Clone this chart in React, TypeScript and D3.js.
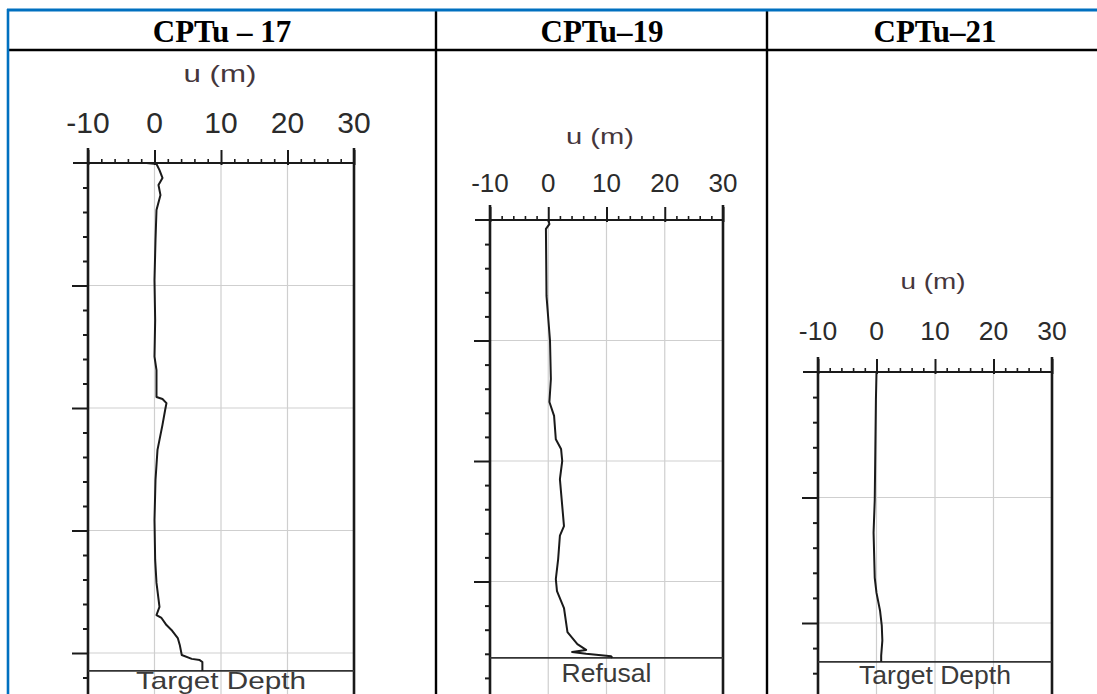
import React, { useEffect, useRef } from "react";
import * as d3 from "d3";

// table headers and the label under each profile
const titles = ["CPTu – 17", "CPTu–19", "CPTu–21"];
const endLabels = ["Target Depth", "Refusal", "Target Depth"];
const uTicks = [-10, 0, 10, 20, 30];
const endDepths = [20.73, 18.17, 11.55];

// CPTu-17 : depth (m) and u (m)
const cptu17Depth = [0, 0.04, 0.29, 0.61, 0.9, 1.31, 1.92, 3.14, 4.78, 6.41, 7.9, 8.45, 9.55, 9.63, 9.8, 10.08, 10.69, 11.3, 11.71, 12.94, 14.57, 16.2, 17.14, 18.12, 18.45, 18.57, 18.86, 19.06, 19.39, 19.67, 20.08, 20.24, 20.29, 20.37, 20.73];
const cptu17U = [-1.2, 0.3, 0.75, 1.2, 0.6, 0.9, 0.3, 0.15, 0, 0.1, 0, 0.3, 0.3, 1.2, 1.8, 1.6, 1.2, 0.75, 0.45, 0.15, 0, 0.1, 0.3, 0.75, 0.3, 1.05, 1.8, 2.55, 3.5, 3.8, 4.1, 5.6, 6.8, 7.2, 7.2];

// CPTu-19
const cptu19Depth = [0, 0.17, 0.37, 3.15, 5.0, 6.6, 7.55, 8.13, 9.1, 9.5, 10.0, 10.75, 12.7, 13.1, 14.07, 14.9, 15.4, 16.1, 17.1, 17.6, 17.84, 17.93, 18.0, 18.1, 18.17];
const cptu19U = [0, 0.2, -0.4, -0.3, 0.3, 0.45, 0.2, 1.0, 1.3, 2.2, 2.4, 2.0, 2.7, 2.0, 1.7, 1.3, 1.5, 2.7, 3.3, 5.0, 6.5, 4.1, 6.5, 10.8, 11];

// CPTu-21
const cptu21Depth = [0, 1.1, 3.1, 5.1, 6.4, 8.2, 8.8, 9.5, 10.1, 10.7, 11.3, 11.55];
const cptu21U = [0, -0.1, -0.2, -0.3, -0.5, -0.3, 0, 0.6, 0.9, 1.0, 0.8, 0.8];

const depths = [cptu17Depth, cptu19Depth, cptu21Depth];
const uValues = [cptu17U, cptu19U, cptu21U];

const W = 1097;
const H = 694;

// where each plot sits on the page
const layout = [
  { cx: 222, x0: 88, x1: 354, y0: 163, pxPerM: 24.5, tickFont: 30, tickGap: 30, labelY: 82, labelW: 73, labelFont: 24, endFont: 24, endW: 170, endY: 689 },
  { cx: 602, x0: 490, x1: 723, y0: 220, pxPerM: 24.1, tickFont: 26, tickGap: 28, labelY: 144, labelW: 68, labelFont: 22, endFont: 25.5, endW: 90, endY: 682 },
  { cx: 935, x0: 818, x1: 1052, y0: 372, pxPerM: 25.1, tickFont: 26.5, tickGap: 32, labelY: 289, labelW: 65, labelFont: 22, endFont: 26, endW: 152, endY: 684 },
];

const App = () => {
  const svgRef = useRef<SVGSVGElement>(null);

  useEffect(() => {
    const svg = d3.select(svgRef.current);
    svg.selectAll("*").remove();
    svg.append("rect").attr("width", W).attr("height", H).attr("fill", "#fff");

    layout.forEach((p, i) => {
      const maxDepth = (H - p.y0) / p.pxPerM + 2;
      const x = d3.scaleLinear().domain([-10, 30]).range([p.x0, p.x1]);
      const y = d3.scaleLinear().domain([0, maxDepth]).range([p.y0, p.y0 + maxDepth * p.pxPerM]);
      const g = svg.append("g");

      // grid
      [0, 10, 20].forEach((v) => {
        g.append("line")
          .attr("x1", x(v)).attr("x2", x(v))
          .attr("y1", p.y0).attr("y2", H)
          .attr("stroke", "#cfcfcf").attr("stroke-width", 1.2);
      });
      d3.range(5, maxDepth, 5).forEach((d) => {
        g.append("line")
          .attr("x1", p.x0).attr("x2", p.x1)
          .attr("y1", y(d)).attr("y2", y(d))
          .attr("stroke", "#cfcfcf").attr("stroke-width", 1.2);
      });

      // top axis
      const topMajor = g.append("g").attr("transform", `translate(0,${p.y0 + 2})`)
        .call(d3.axisTop(x).tickValues(uTicks).tickSize(15).tickFormat(() => ""));
      const topMinor = g.append("g").attr("transform", `translate(0,${p.y0})`)
        .call(d3.axisTop(x).tickValues(d3.range(-8, 30, 2).filter((v) => v % 10 !== 0)).tickSize(4).tickFormat(() => ""));
      [topMajor, topMinor].forEach((a) => {
        a.select(".domain").remove();
        a.selectAll("line").attr("stroke", "#1a1a1a").attr("stroke-width", 1.6);
      });
      topMajor.selectAll("line").attr("stroke-width", 2);
      g.append("line")
        .attr("x1", p.x0 - 15).attr("x2", p.x1)
        .attr("y1", p.y0).attr("y2", p.y0)
        .attr("stroke", "#1a1a1a").attr("stroke-width", 2.2);

      g.selectAll("text.tick-label")
        .data(uTicks)
        .join("text")
        .attr("x", (d) => x(d))
        .attr("y", p.y0 - p.tickGap)
        .attr("text-anchor", "middle")
        .attr("font-family", "'Liberation Sans', Arial, sans-serif")
        .attr("font-size", p.tickFont)
        .attr("fill", "#2b2b2b")
        .text((d) => d);

      g.append("text")
        .attr("x", p.cx - 2)
        .attr("y", p.labelY)
        .attr("text-anchor", "middle")
        .attr("font-family", "'Liberation Sans', Arial, sans-serif")
        .attr("font-size", p.labelFont)
        .attr("textLength", p.labelW)
        .attr("lengthAdjust", "spacingAndGlyphs")
        .attr("fill", "#45363c")
        .text("u (m)");

      // left depth axis
      const leftMajor = g.append("g").attr("transform", `translate(${p.x0},0)`)
        .call(d3.axisLeft(y).tickValues(d3.range(5, maxDepth, 5)).tickSize(16).tickFormat(() => ""));
      const leftMinor = g.append("g").attr("transform", `translate(${p.x0},0)`)
        .call(d3.axisLeft(y).tickValues(d3.range(1, maxDepth, 1).filter((v) => v % 5 !== 0)).tickSize(5).tickFormat(() => ""));
      [leftMajor, leftMinor].forEach((a) => {
        a.select(".domain").remove();
        a.selectAll("line").attr("stroke", "#1a1a1a").attr("stroke-width", 2);
      });

      // frame
      [p.x0, p.x1].forEach((xv) => {
        g.append("line")
          .attr("x1", xv).attr("x2", xv)
          .attr("y1", p.y0 - 15).attr("y2", H)
          .attr("stroke", "#1a1a1a").attr("stroke-width", 2.6);
      });

      // end of sounding
      g.append("line")
        .attr("x1", p.x0).attr("x2", p.x1)
        .attr("y1", y(endDepths[i])).attr("y2", y(endDepths[i]))
        .attr("stroke", "#333").attr("stroke-width", 1.8);
      g.append("text")
        .attr("x", (p.x0 + p.x1) / 2)
        .attr("y", p.endY)
        .attr("text-anchor", "middle")
        .attr("font-family", "'Liberation Sans', Arial, sans-serif")
        .attr("font-size", p.endFont)
        .attr("textLength", p.endW)
        .attr("lengthAdjust", "spacingAndGlyphs")
        .attr("fill", "#3a3a3a")
        .text(endLabels[i]);

      // u profile
      const pts = depths[i].map((d, k) => [uValues[i][k], d] as [number, number]);
      g.append("path")
        .datum(pts)
        .attr("fill", "none")
        .attr("stroke", "#1a1a1a")
        .attr("stroke-width", 2)
        .attr("stroke-linejoin", "round")
        .attr("d", d3.line<[number, number]>().x((d) => x(d[0])).y((d) => y(d[1])));

      // header
      svg.append("text")
        .attr("x", p.cx)
        .attr("y", 42)
        .attr("text-anchor", "middle")
        .attr("font-family", "'Liberation Serif', 'Times New Roman', serif")
        .attr("font-weight", "bold")
        .attr("font-size", 31)
        .attr("fill", "#000")
        .text(titles[i]);
    });

    // table rules
    const rules = svg.append("g");
    rules.append("line").attr("x1", 8).attr("x2", W).attr("y1", 50).attr("y2", 50)
      .attr("stroke", "#000").attr("stroke-width", 2.6);
    [436, 767].forEach((xv) => {
      rules.append("line").attr("x1", xv).attr("x2", xv).attr("y1", 10).attr("y2", H)
        .attr("stroke", "#000").attr("stroke-width", 2.4);
    });
    rules.append("line").attr("x1", 8).attr("x2", 8).attr("y1", 9).attr("y2", H)
      .attr("stroke", "#0070c0").attr("stroke-width", 2.6);
    rules.append("line").attr("x1", 7).attr("x2", W).attr("y1", 10).attr("y2", 10)
      .attr("stroke", "#0070c0").attr("stroke-width", 3);
  }, []);

  return (
    <svg
      ref={svgRef}
      width={W}
      height={H}
      style={{ position: "absolute", left: 0, top: 0, display: "block" }}
    />
  );
};

export default App;
